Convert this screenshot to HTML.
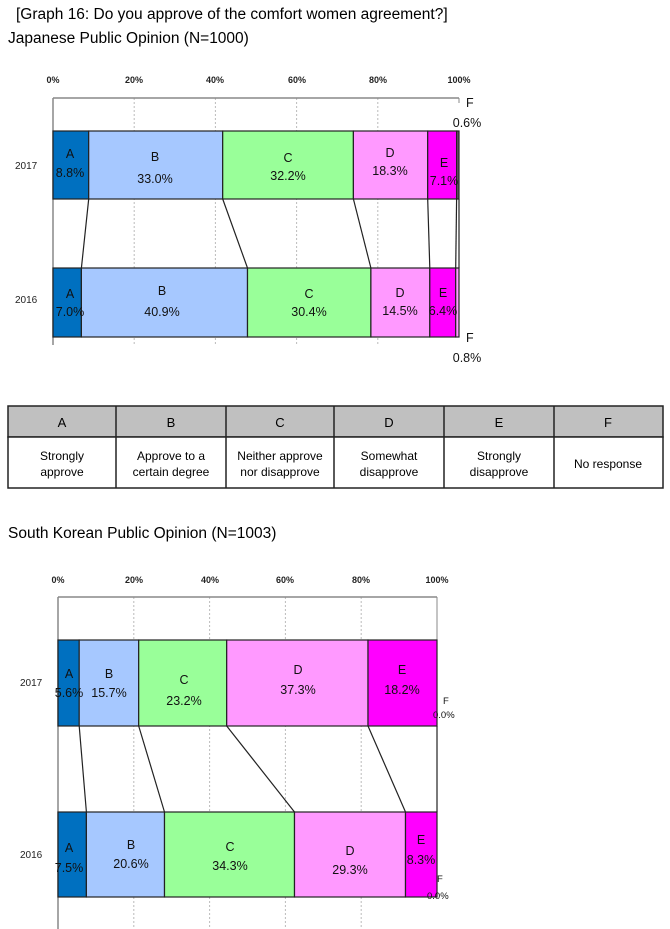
<!DOCTYPE html>
<html><head><meta charset="utf-8"><style>
body{margin:0;background:#fff;}
svg{display:block;font-family:"Liberation Sans",sans-serif;}
</style></head><body>
<svg width="670" height="929" viewBox="0 0 670 929" xmlns="http://www.w3.org/2000/svg">
<text x="16" y="19" font-size="15.5">[Graph 16: Do you approve of the comfort women agreement?]</text>
<text x="8" y="43" font-size="15.5">Japanese Public Opinion (N=1000)</text>

<g stroke="#bbb" stroke-dasharray="2,2" stroke-width="1">
<line x1="134.2" y1="98" x2="134.2" y2="345"/><line x1="215.4" y1="98" x2="215.4" y2="345"/>
<line x1="296.6" y1="98" x2="296.6" y2="345"/><line x1="377.8" y1="98" x2="377.8" y2="345"/>
</g>
<line x1="53" y1="98" x2="459" y2="98" stroke="#888" stroke-width="1.5"/>
<line x1="53" y1="98" x2="53" y2="345" stroke="#888" stroke-width="1.5"/>
<line x1="459" y1="98" x2="459" y2="103" stroke="#888"/>
<g font-size="9" text-anchor="middle" fill="#222" font-weight="bold">
<text x="53" y="83">0%</text><text x="134" y="83">20%</text><text x="215" y="83">40%</text>
<text x="297" y="83">60%</text><text x="378" y="83">80%</text><text x="459" y="83">100%</text>
</g>
<g stroke="#222" stroke-width="1.2">
<rect x="53" y="131" width="35.7" height="68" fill="#0070c0"/>
<rect x="88.7" y="131" width="134" height="68" fill="#a6c8ff"/>
<rect x="222.7" y="131" width="130.7" height="68" fill="#99ff99"/>
<rect x="353.4" y="131" width="74.3" height="68" fill="#ff99ff"/>
<rect x="427.7" y="131" width="28.9" height="68" fill="#ff00ff"/>
<rect x="456.6" y="131" width="2.4" height="68" fill="#705070"/>
<rect x="53" y="268" width="28.4" height="69" fill="#0070c0"/>
<rect x="81.4" y="268" width="166.1" height="69" fill="#a6c8ff"/>
<rect x="247.5" y="268" width="123.4" height="69" fill="#99ff99"/>
<rect x="370.9" y="268" width="58.9" height="69" fill="#ff99ff"/>
<rect x="429.8" y="268" width="25.9" height="69" fill="#ff00ff"/>
<rect x="455.7" y="268" width="3.3" height="69" fill="#ff99ff"/>
<line x1="88.7" y1="199" x2="81.4" y2="268"/><line x1="222.7" y1="199" x2="247.5" y2="268"/>
<line x1="353.4" y1="199" x2="370.9" y2="268"/><line x1="427.7" y1="199" x2="429.8" y2="268"/>
<line x1="456.6" y1="199" x2="455.7" y2="268"/><line x1="459" y1="199" x2="459" y2="268"/>
</g>
<g font-size="12.5" text-anchor="middle" fill="#111">
<text x="70" y="158">A</text><text x="70" y="177">8.8%</text>
<text x="155" y="161">B</text><text x="155" y="183">33.0%</text>
<text x="288" y="162">C</text><text x="288" y="180">32.2%</text>
<text x="390" y="157">D</text><text x="390" y="175">18.3%</text>
<text x="444" y="167">E</text><text x="444" y="185">7.1%</text>
<text x="70" y="298">A</text><text x="70" y="316">7.0%</text>
<text x="162" y="295">B</text><text x="162" y="316">40.9%</text>
<text x="309" y="298">C</text><text x="309" y="316">30.4%</text>
<text x="400" y="297">D</text><text x="400" y="315">14.5%</text>
<text x="443" y="297">E</text><text x="443" y="315">6.4%</text>
<text x="466" y="107" text-anchor="start">F</text><text x="467" y="127">0.6%</text>
<text x="466" y="342" text-anchor="start">F</text><text x="467" y="362">0.8%</text>
</g>
<g font-size="10" fill="#222"><text x="15" y="169">2017</text><text x="15" y="303">2016</text></g>

<g stroke="#222" stroke-width="1.5">
<rect x="8" y="406" width="655" height="31" fill="#c0c0c0"/>
<rect x="8" y="437" width="655" height="51" fill="#fff"/>
<line x1="116" y1="406" x2="116" y2="488"/><line x1="226" y1="406" x2="226" y2="488"/>
<line x1="334" y1="406" x2="334" y2="488"/><line x1="444" y1="406" x2="444" y2="488"/>
<line x1="554" y1="406" x2="554" y2="488"/>
</g>
<g font-size="13" text-anchor="middle" fill="#000">
<text x="62" y="427">A</text><text x="171" y="427">B</text><text x="280" y="427">C</text>
<text x="389" y="427">D</text><text x="499" y="427">E</text><text x="608" y="427">F</text>
</g>
<g font-size="12" text-anchor="middle" fill="#000">
<text x="62" y="460">Strongly</text><text x="62" y="476">approve</text>
<text x="171" y="460">Approve to a</text><text x="171" y="476">certain degree</text>
<text x="280" y="460">Neither approve</text><text x="280" y="476">nor disapprove</text>
<text x="389" y="460">Somewhat</text><text x="389" y="476">disapprove</text>
<text x="499" y="460">Strongly</text><text x="499" y="476">disapprove</text>
<text x="608" y="468">No response</text>
</g>

<text x="8" y="538" font-size="15.5">South Korean Public Opinion (N=1003)</text>

<g stroke="#bbb" stroke-dasharray="2,2" stroke-width="1">
<line x1="133.8" y1="597" x2="133.8" y2="929"/><line x1="209.6" y1="597" x2="209.6" y2="929"/>
<line x1="285.4" y1="597" x2="285.4" y2="929"/><line x1="361.2" y1="597" x2="361.2" y2="929"/>
</g>
<line x1="58" y1="597" x2="437" y2="597" stroke="#888" stroke-width="1.5"/>
<line x1="58" y1="597" x2="58" y2="929" stroke="#888" stroke-width="1.5"/>
<line x1="437" y1="597" x2="437" y2="640" stroke="#888"/>
<g font-size="9" text-anchor="middle" fill="#222" font-weight="bold">
<text x="58" y="583">0%</text><text x="134" y="583">20%</text><text x="210" y="583">40%</text>
<text x="285" y="583">60%</text><text x="361" y="583">80%</text><text x="437" y="583">100%</text>
</g>
<g stroke="#222" stroke-width="1.2">
<rect x="58" y="640" width="21.2" height="86" fill="#0070c0"/>
<rect x="79.2" y="640" width="59.5" height="86" fill="#a6c8ff"/>
<rect x="138.7" y="640" width="88" height="86" fill="#99ff99"/>
<rect x="226.7" y="640" width="141.3" height="86" fill="#ff99ff"/>
<rect x="368" y="640" width="69" height="86" fill="#ff00ff"/>
<rect x="58" y="812" width="28.4" height="85" fill="#0070c0"/>
<rect x="86.4" y="812" width="78.1" height="85" fill="#a6c8ff"/>
<rect x="164.5" y="812" width="130" height="85" fill="#99ff99"/>
<rect x="294.5" y="812" width="111" height="85" fill="#ff99ff"/>
<rect x="405.5" y="812" width="31.5" height="85" fill="#ff00ff"/>
<line x1="79.2" y1="726" x2="86.4" y2="812"/><line x1="138.7" y1="726" x2="164.5" y2="812"/>
<line x1="226.7" y1="726" x2="294.5" y2="812"/><line x1="368" y1="726" x2="405.5" y2="812"/>
<line x1="437" y1="726" x2="437" y2="812"/>
</g>
<g font-size="12.5" text-anchor="middle" fill="#111">
<text x="69" y="678">A</text><text x="69" y="697">5.6%</text>
<text x="109" y="678">B</text><text x="109" y="697">15.7%</text>
<text x="184" y="684">C</text><text x="184" y="705">23.2%</text>
<text x="298" y="674">D</text><text x="298" y="694">37.3%</text>
<text x="402" y="674">E</text><text x="402" y="694">18.2%</text>
<text x="69" y="852">A</text><text x="69" y="872">7.5%</text>
<text x="131" y="849">B</text><text x="131" y="868">20.6%</text>
<text x="230" y="851">C</text><text x="230" y="870">34.3%</text>
<text x="350" y="855">D</text><text x="350" y="874">29.3%</text>
<text x="421" y="844">E</text><text x="421" y="864">8.3%</text>
</g>
<g font-size="9.5" fill="#111">
<text x="443" y="704">F</text><text x="433" y="718">0.0%</text>
<text x="437" y="882">F</text><text x="427" y="899">0.0%</text>
</g>
<g font-size="10" fill="#222"><text x="20" y="686">2017</text><text x="20" y="858">2016</text></g>
</svg>
</body></html>
